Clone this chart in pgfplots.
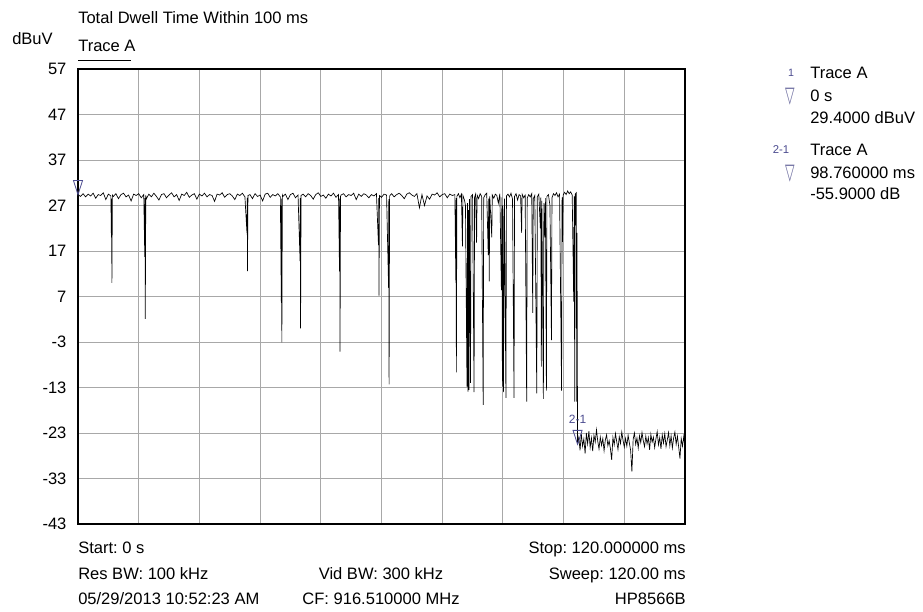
\documentclass[border=0pt]{standalone}
\usepackage{graphicx}
\usepackage{pgfplots}
\pgfplotsset{compat=1.18}
\usepackage{fontspec}
\setmainfont{Liberation Sans}
\newfontfamily\sym{DejaVu Sans}
\definecolor{mk}{HTML}{4B4B8F}
\definecolor{mkl}{HTML}{6E6EA0}
\definecolor{gridc}{HTML}{A8A8A8}
\pgfdeclareplotmark{dtri}{%
  \pgfpathmoveto{\pgfqpoint{0pt}{0pt}}%
  \pgfpathlineto{\pgfqpoint{-3.4pt}{10.5pt}}%
  \pgfpathlineto{\pgfqpoint{3.4pt}{10.5pt}}%
  \pgfpathclose\pgfusepathqstroke}
\frenchspacing
\begin{document}
\frenchspacing
\begin{tikzpicture}[font=\fontsize{12.4}{14}\selectfont]
\path[use as bounding box] (0pt,0pt) rectangle (692.25pt,-458.25pt);
\begin{axis}[
  at={(58.5pt,-51.75pt)}, anchor=north west,
  scale only axis, width=455.25pt, height=341.25pt,
  xmin=0, xmax=120, ymin=-43, ymax=57,
  xtick={0,12,...,120}, xticklabels={},
  ytick={-43,-33,...,57},
  grid=major, major grid style={gridc, line width=0.75pt},
  major tick length=0pt,
  axis line style={black, line width=1.1pt},
  /pgf/number format/assume math mode=true,
  yticklabel style={font=\fontsize{12.4}{14}\selectfont, inner sep=0pt, xshift=-8.5pt},
  clip=false,
]
\addplot[black, line width=0.5pt, mark=none] coordinates {
(0,29.4) (0.5,29.0) (1,29.6) (1.5,28.9) (2,29.5) (2.5,29.1) (3,29.7) (3.5,28.6) (4,29.4) (4.5,29.2)
(5,29.8) (5.5,28.3) (6,29.5) (6.5,29.1) (6.6,20) (6.65,28.5) (6.7,10) (6.8,29.3) (7,29.0) (7.5,29.6)
(8,28.5) (8.5,29.4) (9,29.7) (9.5,28.9) (10,29.3) (10.5,28.0) (11,29.5) (11.5,29.2) (12,29.6) (12.5,28.7)
(13,29.4) (13.2,15.7) (13.25,28.6) (13.3,2.1) (13.4,29.2) (13.5,28.4) (14,29.5) (14.5,28.9) (15,29.7) (15.5,29.0)
(16,28.2) (16.5,29.4) (17,29.6) (17.5,28.7) (18,29.3) (18.5,29.8) (19,28.9) (19.5,29.4) (20,28.1) (20.5,29.5)
(21,29.2) (21.5,29.9) (22,28.8) (22.5,29.3) (23,29.6) (23.5,28.4) (24,29.5) (24.5,29.1) (25,29.7) (25.5,28.9)
(26,29.4) (26.5,29.2) (27,27.9) (27.5,29.5) (28,29.3) (28.5,29.8) (29,28.8) (29.5,29.4) (30,29.6) (30.5,29.1)
(31,28.3) (31.5,29.5) (32,29.2) (32.5,29.7) (33,28.9) (33.4,21) (33.45,28.7) (33.5,12.6) (33.6,29.2) (34,29.4)
(34.5,28.5) (35,29.6) (35.5,29.0) (36,29.3) (36.5,28.0) (37,29.5) (37.5,29.7) (38,28.8) (38.5,29.4) (39,29.1)
(39.5,29.6) (40,28.9) (40.2,5.6) (40.25,28.5) (40.3,-3.1) (40.4,29.3) (40.5,29.0) (41,29.5) (41.5,28.3) (42,29.4)
(42.5,29.7) (43,28.7) (43.5,29.3) (43.9,14.8) (43.95,28.6) (44.0,0) (44.1,29.2) (44.5,29.5) (45,28.9) (45.5,29.6)
(46,29.2) (46.5,28.4) (47,29.4) (47.5,29.8) (48,29.0) (48.5,29.3) (49,28.6) (49.5,29.5) (50,29.1) (50.5,29.7)
(51,28.8) (51.5,29.4) (51.7,12.5) (51.75,28.5) (51.8,-5.1) (51.9,29.0) (52,29.3) (52.5,29.6) (53,28.9) (53.5,29.4)
(54,29.2) (54.5,29.7) (55,28.3) (55.5,29.5) (56,29.0) (56.5,29.6) (57,29.3) (57.5,28.7) (58,29.4) (58.5,29.1)
(59,29.6) (59.4,18.3) (59.45,28.6) (59.5,7.2) (59.6,29.2) (60,28.8) (60.5,29.5) (61,29.3) (61.4,8.9) (61.45,28.4)
(61.5,-12.3) (61.6,29.1) (62,29.6) (62.5,28.9) (63,29.4) (63.5,29.7) (64,29.2) (64.5,28.5) (65,29.5) (65.5,29.8)
(66,29.3) (66.5,29.0) (67,29.6) (67.5,26.5) (68,29.4) (68.5,27.0) (69,29.1) (69.5,28.4) (70,29.5) (70.5,29.3)
(71,29.8) (71.5,28.9) (72,29.4) (72.5,29.6) (73,28.7) (73.5,29.5) (74,29.2) (74.5,29.4) (74.7,10) (74.75,28.6)
(74.8,-9.7) (74.9,29.0) (75.2,29.6) (75.5,28.7) (75.8,29.5) (76.0,18) (76.1,29.2) (76.4,28.2) (76.6,27.0) (76.9,-12.8)
(77.0,27.5) (77.1,-13.9) (77.2,26.0) (77.3,-13.5) (77.4,28.4) (77.6,-12.0) (77.7,29.0) (78.0,29.4) (78.3,-14) (78.4,28.8)
(78.6,29.5) (78.8,18.8) (78.9,29.3) (79.2,28.5) (79.5,29.6) (79.8,29.0) (80.1,-16.8) (80.2,28.7) (80.5,29.4) (80.8,29.7)
(81.1,16.1) (81.2,28.5) (81.3,10.3) (81.4,29.0) (81.8,20) (81.9,29.3) (82.2,28.6) (82.5,29.5) (82.8,29.2) (83.1,27.5)
(83.4,29.6) (83.7,8.4) (83.8,28.8) (83.9,-12.8) (84.0,27.0) (84.1,-14.0) (84.3,28.5) (84.6,-15.3) (84.7,29.1) (85.0,29.5)
(85.3,28.9) (85.6,29.7) (85.9,28.4) (86.2,-15.3) (86.3,29.0) (86.6,29.6) (86.9,28.2) (87.2,29.4) (87.5,29.1) (87.7,21)
(87.8,29.5) (88.1,28.7) (88.4,29.3) (88.7,-16.1) (88.8,28.6) (89.1,29.4) (89.4,28.9) (89.7,29.6) (89.9,3.4) (90.0,28.5)
(90.3,29.2) (90.7,-14.3) (90.8,28.9) (91.1,29.5) (91.4,22) (91.5,28.8) (91.6,-8.4) (91.7,28.0) (92.0,-15.5) (92.1,27.5)
(92.3,20) (92.4,28.6) (92.6,-13.7) (92.7,29.0) (93.0,29.4) (93.3,27.0) (93.6,-2.6) (93.7,28.7) (94.0,29.6) (94.3,29.2)
(94.6,29.8) (94.9,28.9) (95.2,29.5) (95.6,-13.7) (95.7,28.8) (95.8,19) (95.9,29.3) (96.2,29.9) (96.5,29.4) (96.8,30.2)
(97.1,29.6) (97.4,30.0) (97.7,29.3) (98.0,5.9) (98.1,29.0) (98.2,-16.1) (98.3,29.5) (98.5,29.8) (98.6,-16.1) (98.65,21)
(98.76,-25.5) (99.0,-24.0) (99.25,-26.8) (99.5,-23.2) (99.75,-25.9) (100,-24.3) (100.25,-27.5) (100.5,-23.0) (100.75,-25.4) (101,-22.6)
(101.25,-26.2) (101.5,-24.1) (101.75,-27.0) (102,-23.5) (102.25,-25.0) (102.5,-22.3) (102.75,-24.8) (103,-26.5) (103.25,-23.9) (103.5,-25.7)
(103.75,-24.2) (104,-26.9) (104.25,-24.5) (104.5,-23.4) (104.75,-25.8) (105,-24.7) (105.25,-26.4) (105.5,-28.9) (105.75,-24.0) (106,-25.6)
(106.25,-23.1) (106.5,-24.9) (106.75,-26.6) (107,-23.8) (107.25,-25.3) (107.5,-22.8) (107.75,-24.6) (108,-26.1) (108.25,-24.2) (108.5,-25.9)
(108.75,-23.5) (109,-25.2) (109.25,-26.8) (109.5,-31.5) (109.75,-24.4) (110,-23.0) (110.25,-25.5) (110.5,-24.1) (110.75,-26.3) (111,-23.6)
(111.25,-25.1) (111.5,-22.9) (111.75,-24.7) (112,-26.0) (112.25,-23.7) (112.5,-25.4) (112.75,-24.0) (113,-26.7) (113.25,-23.3) (113.5,-25.0)
(113.75,-23.9) (114,-26.2) (114.25,-24.3) (114.5,-22.7) (114.75,-25.6) (115,-24.0) (115.25,-26.5) (115.5,-23.4) (115.75,-25.2) (116,-23.1)
(116.25,-26.0) (116.5,-24.5) (116.75,-22.9) (117,-25.8) (117.25,-23.6) (117.5,-26.3) (117.75,-24.1) (118,-22.8) (118.25,-25.5) (118.5,-23.7)
(118.75,-26.1) (119,-28.6) (119.25,-24.2) (119.5,-25.9) (119.75,-23.8) (120,-26.0)
};
\addplot[only marks, mark=dtri, mk, line width=0.6pt] coordinates {(0,29.4) (98.76,-25.5)};
\node[mk, anchor=base, font=\fontsize{9}{10}\selectfont, yshift=15.5pt] at (axis cs:98.76,-25.5) {2-1};
\end{axis}
\begin{scope}[x=0.75pt,y=-0.75pt]
% header
\node[anchor=base west, inner sep=0pt] at (78,23) {Total Dwell Time Within 100 ms};
\node[anchor=base west, inner sep=0pt] at (12,44) {dBuV};
\node[anchor=base west, inner sep=0pt] at (78,51.5) {Trace A};
\draw[black, line width=0.75pt] (78,60.5) -- (131,60.5);
% marker legend
\node[mk, anchor=base, inner sep=0pt, font=\fontsize{8}{9}\selectfont] at (791,76) {1};
\node[anchor=base west, inner sep=0pt] at (810,78) {Trace A};
\node[mkl, anchor=base, inner sep=0pt] at (790,102) {\sym\scalebox{0.75}[1.35]{▽}};
\node[anchor=base west, inner sep=0pt] at (810,101.5) {0 s};
\node[anchor=base west, inner sep=0pt] at (810,123) {29.4000 dBuV};
\node[mk, anchor=base, inner sep=0pt, font=\fontsize{8.5}{9}\selectfont] at (781,153) {2-1};
\node[anchor=base west, inner sep=0pt] at (810,155) {Trace A};
\node[mkl, anchor=base, inner sep=0pt] at (790,179) {\sym\scalebox{0.75}[1.35]{▽}};
\node[anchor=base west, inner sep=0pt] at (810,178) {98.760000 ms};
\node[anchor=base west, inner sep=0pt] at (810,199.5) {-55.9000 dB};
% footer
\node[anchor=base west, inner sep=0pt] at (78,553) {Start: 0 s};
\node[anchor=base east, inner sep=0pt] at (686,553) {Stop: 120.000000 ms};
\node[anchor=base west, inner sep=0pt] at (78,579) {Res BW: 100 kHz};
\node[anchor=base, inner sep=0pt] at (381,579) {Vid BW: 300 kHz};
\node[anchor=base east, inner sep=0pt] at (686,579) {Sweep: 120.00 ms};
\node[anchor=base west, inner sep=0pt] at (78,604.5) {05/29/2013 10:52:23 AM};
\node[anchor=base, inner sep=0pt] at (381,604.5) {CF: 916.510000 MHz};
\node[anchor=base east, inner sep=0pt] at (686,604.5) {HP8566B};
\end{scope}
\end{tikzpicture}
\end{document}
